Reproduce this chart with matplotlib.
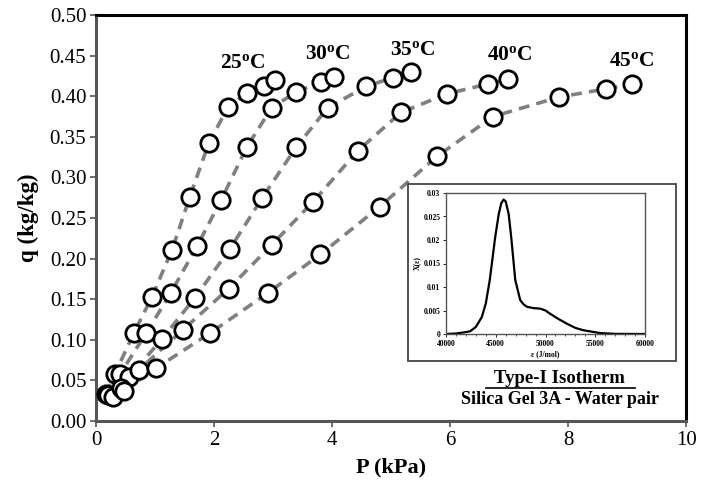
import matplotlib

matplotlib.use("Agg")
import matplotlib.pyplot as plt
from matplotlib.patches import Rectangle
from matplotlib.lines import Line2D
from matplotlib.ticker import MultipleLocator

plt.rcParams["font.family"] = ["Liberation Serif", "DejaVu Serif"]
plt.rcParams["mathtext.fontset"] = "custom"
plt.rcParams["mathtext.rm"] = "Liberation Serif"
plt.rcParams["mathtext.bf"] = "Liberation Serif:bold"

# isotherm data, P in kPa, q in kg/kg
temps = ["25", "30", "35", "40", "45"]
p_25 = [0.17, 0.32, 0.64, 0.95, 1.29, 1.59, 1.91, 2.24, 2.56, 2.85, 3.03]
q_25 = [0.033, 0.058, 0.108, 0.153, 0.211, 0.276, 0.342, 0.387, 0.404, 0.413, 0.420]
p_30 = [0.20, 0.41, 0.85, 1.27, 1.71, 2.12, 2.56, 2.98, 3.39, 3.81, 4.03]
q_30 = [0.032, 0.058, 0.108, 0.158, 0.215, 0.272, 0.338, 0.386, 0.405, 0.418, 0.424]
p_35 = [0.29, 0.56, 1.12, 1.68, 2.27, 2.81, 3.39, 3.93, 4.58, 5.03, 5.34]
q_35 = [0.029, 0.054, 0.101, 0.152, 0.212, 0.274, 0.337, 0.386, 0.412, 0.423, 0.430]
p_40 = [0.42, 0.73, 1.47, 2.25, 2.98, 3.68, 4.44, 5.17, 5.95, 6.64, 6.98]
q_40 = [0.040, 0.063, 0.112, 0.163, 0.217, 0.270, 0.333, 0.380, 0.403, 0.415, 0.421]
p_45 = [0.47, 1.02, 1.93, 2.92, 3.80, 4.81, 5.78, 6.73, 7.85, 8.64, 9.08]
q_45 = [0.037, 0.065, 0.108, 0.158, 0.205, 0.264, 0.326, 0.375, 0.399, 0.409, 0.415]
label_x = [2.49, 3.93, 5.36, 7.02, 9.08]
label_y = [0.440, 0.452, 0.456, 0.450, 0.443]

# adsorption energy distribution (inset)
eps = [40000, 41000, 42000, 42440, 43000, 43600, 44000, 44400, 44950, 45300,
       45550, 45786, 46000, 46300, 46550, 46960, 47460, 47800, 48130, 48800,
       49460, 50000, 50470, 51300, 52140, 53000, 53810, 55480, 57000, 60000]
chi = [0.0, 0.0001, 0.0004, 0.0006, 0.0015, 0.0036, 0.0065, 0.0115, 0.0207, 0.0255,
       0.0278, 0.0286, 0.0282, 0.0255, 0.0207, 0.0115, 0.0072, 0.0063, 0.0058, 0.0055,
       0.0054, 0.0050, 0.0043, 0.0032, 0.0022, 0.0013, 0.0008, 0.0002, 0.00003, 0.0]

series = [(p_25, q_25), (p_30, q_30), (p_35, q_35), (p_40, q_40), (p_45, q_45)]

fig = plt.figure(figsize=(7.08, 4.86), dpi=100)
ax = fig.add_axes([0.1356, 0.134, 0.8334, 0.835])

for (p, q), t, lx, ly in zip(series, temps, label_x, label_y):
    ax.plot(p, q, linestyle=(0, (3, 2)), color="#808080", linewidth=2.6, zorder=2)
    ax.plot(p, q, linestyle="none", marker="o", markersize=12.5, markerfacecolor="white",
            markeredgecolor="black", markeredgewidth=2.0, zorder=3)
    ax.text(lx, ly, rf"$\mathbf{{{t}^{{o}}C}}$", fontsize=15.5, ha="center", va="center")

ax.set_xlim(0, 10)
ax.set_ylim(0, 0.5)
ax.set_xticks([0, 2, 4, 6, 8, 10])
ax.set_yticks([0.0, 0.05, 0.10, 0.15, 0.20, 0.25, 0.30, 0.35, 0.40, 0.45, 0.50])
ax.set_yticklabels([f"{v:.2f}" for v in ax.get_yticks()])
ax.tick_params(labelsize=15, length=4, width=1.2, color="#555555", pad=3)
ax.set_xlabel("P (kPa)", fontsize=16, fontweight="bold", labelpad=6)
ax.set_ylabel("q (kg/kg)", fontsize=16.5, fontweight="bold", labelpad=8)
for side in ["left", "bottom"]:
    ax.spines[side].set_color("#555555")
    ax.spines[side].set_linewidth(2.2)
for side in ["top", "right"]:
    ax.spines[side].set_color("black")
    ax.spines[side].set_linewidth(2.2)

ax.text(7.86, 0.0516, "Type-I Isotherm", fontsize=13.5, fontweight="bold", ha="center", va="center")
fig.add_artist(Line2D([486 / 708, 635 / 708], [1 - 388 / 486, 1 - 388 / 486],
                      color="black", linewidth=1.2))
ax.text(7.86, 0.026, "Silica Gel 3A - Water pair", fontsize=13, fontweight="bold",
        ha="center", va="center")

# inset frame and axes
fig.add_artist(Rectangle((408 / 708, 1 - 361 / 486), 268 / 708, 177 / 486,
                         transform=fig.transFigure, facecolor="white",
                         edgecolor="#444444", linewidth=1.3, zorder=4))
ins = fig.add_axes([446 / 708, 1 - 334 / 486, 199 / 708, 141 / 486], zorder=5)
ins.plot(eps, chi, color="black", linewidth=1.6)
ins.set_xlim(40000, 60000)
ins.set_ylim(0, 0.03)
ins.set_xticks([40000, 45000, 50000, 55000, 60000])
ins.xaxis.set_minor_locator(MultipleLocator(1000))
ins.set_yticks([0, 0.005, 0.01, 0.015, 0.02, 0.025, 0.03])
ins.set_yticklabels(["0", "0.005", "0.01", "0.015", "0.02", "0.025", "0.03"])
ins.tick_params(labelsize=5.5, length=2, width=0.6, pad=2)
ins.tick_params(which="minor", length=1.2, width=0.5)
for lab in ins.get_xticklabels() + ins.get_yticklabels():
    lab.set_fontweight("bold")
ins.set_xlabel("ε (J/mol)", fontsize=5.5, fontweight="bold", labelpad=2)
ins.set_ylabel("X(ε)", fontsize=5.5, fontweight="bold", labelpad=2)
for s in ins.spines.values():
    s.set_color("#555555")
    s.set_linewidth(1.0)

fig.savefig("out.png", dpi=100)
